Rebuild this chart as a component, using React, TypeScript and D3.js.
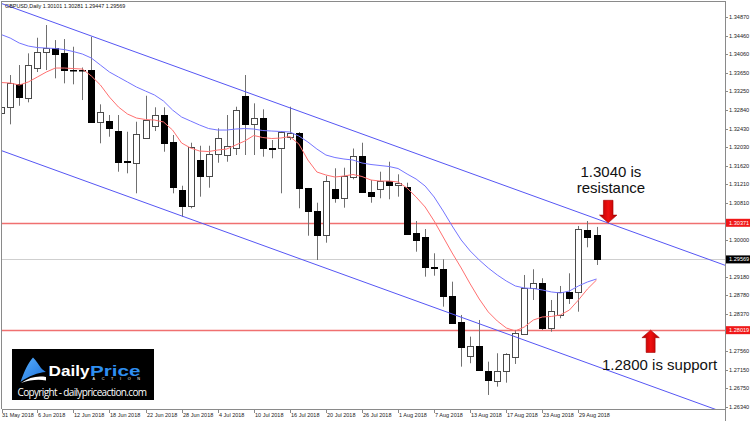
import React from 'react';
import * as d3 from 'd3';

// GBPUSD daily bars, 31 May 2018 .. 31 Aug 2018
const opens = [1.32776, 1.32914, 1.33404, 1.33098, 1.33755, 1.34105, 1.34193, 1.34083, 1.33728, 1.33724,
  1.33717, 1.32572, 1.32600, 1.32388, 1.31718, 1.31687, 1.32235, 1.32491, 1.32732, 1.32147,
  1.31089, 1.30739, 1.31746, 1.31396, 1.31871, 1.31856, 1.32016, 1.33154, 1.32535, 1.32660,
  1.32009, 1.32016, 1.32243, 1.32344, 1.31127, 1.30629, 1.30104, 1.31105, 1.30908, 1.31381,
  1.31841, 1.31052, 1.31105, 1.31286, 1.31199, 1.31162, 1.30141, 1.30067, 1.29403, 1.29353,
  1.28768, 1.28205, 1.27461, 1.27679, 1.27132, 1.26913, 1.27125, 1.27425, 1.27936, 1.28937,
  1.29059, 1.28074, 1.28352, 1.28862, 1.28862, 1.30213, 1.30101];
const highs = [1.32973, 1.33608, 1.33827, 1.34083, 1.34425, 1.34703, 1.34374, 1.34396, 1.34228, 1.33772,
  1.34447, 1.32966, 1.32732, 1.32732, 1.32366, 1.32585, 1.33154, 1.32901, 1.32901, 1.32294,
  1.31183, 1.32125, 1.32059, 1.32059, 1.32441, 1.32732, 1.32914, 1.33608, 1.32988, 1.32857,
  1.32184, 1.32381, 1.32914, 1.32360, 1.31134, 1.30811, 1.31396, 1.31565, 1.31578, 1.31998,
  1.32125, 1.31308, 1.31490, 1.31709, 1.31433, 1.31249, 1.30410, 1.30235, 1.29703, 1.29572,
  1.29081, 1.28352, 1.27877, 1.28242, 1.27329, 1.27513, 1.27513, 1.28023, 1.29228, 1.29353,
  1.29156, 1.28680, 1.28987, 1.29265, 1.30301, 1.30410, 1.30281];
const lows = [1.32710, 1.32528, 1.32935, 1.33010, 1.33674, 1.33717, 1.33536, 1.33426, 1.33404, 1.33060,
  1.32561, 1.32112, 1.32257, 1.31490, 1.31455, 1.31017, 1.32228, 1.32381, 1.31928, 1.31017,
  1.30505, 1.30689, 1.30943, 1.31140, 1.31687, 1.31709, 1.31856, 1.31856, 1.31856, 1.31819,
  1.31784, 1.31017, 1.32184, 1.30689, 1.30088, 1.29556, 1.29935, 1.30811, 1.30702, 1.31324,
  1.31041, 1.30811, 1.30908, 1.30886, 1.30943, 1.30115, 1.29738, 1.29191, 1.29212, 1.28534,
  1.28172, 1.27220, 1.27294, 1.27136, 1.26600, 1.26782, 1.26869, 1.27279, 1.27914, 1.28680,
  1.28023, 1.27986, 1.28280, 1.28593, 1.28424, 1.29834, 1.29447];
const closes = [1.32907, 1.33426, 1.33133, 1.33827, 1.34105, 1.34206, 1.34061, 1.33717, 1.33717, 1.33711,
  1.32572, 1.32791, 1.32441, 1.31709, 1.31705, 1.32309, 1.32622, 1.32732, 1.32125, 1.31162,
  1.30739, 1.32024, 1.31396, 1.31871, 1.32235, 1.32053, 1.32841, 1.32535, 1.32660, 1.32003,
  1.31998, 1.32366, 1.32331, 1.31127, 1.30629, 1.30104, 1.31286, 1.30921, 1.31402, 1.31841,
  1.31052, 1.30964, 1.31293, 1.31199, 1.31249, 1.30126, 1.29994, 1.29396, 1.29390, 1.28768,
  1.28183, 1.27658, 1.27673, 1.27147, 1.26928, 1.27132, 1.27491, 1.27951, 1.28937, 1.29059,
  1.28074, 1.28446, 1.28862, 1.28718, 1.30229, 1.30053, 1.29569];

// moving averages (slow = blue, fast = red)
const maSlow = [1.34495, 1.34418, 1.34309, 1.34243, 1.34210, 1.34199, 1.34188, 1.34166, 1.34122, 1.34068,
  1.33980, 1.33827, 1.33674, 1.33564, 1.33455, 1.33345, 1.33257, 1.33170, 1.33038, 1.32841,
  1.32688, 1.32600, 1.32513, 1.32436, 1.32403, 1.32403, 1.32425, 1.32436, 1.32425, 1.32392,
  1.32381, 1.32371, 1.32360, 1.32272, 1.32141, 1.31987, 1.31856, 1.31801, 1.31768, 1.31746,
  1.31681, 1.31648, 1.31626, 1.31604, 1.31560, 1.31440, 1.31330, 1.31177, 1.30936, 1.30629,
  1.30301, 1.29994, 1.29753, 1.29556, 1.29381, 1.29228, 1.29096, 1.28987, 1.28943, 1.28932,
  1.28899, 1.28856, 1.28834, 1.28877, 1.28987, 1.29075, 1.29140];
const maFast = [1.33444, 1.33433, 1.33389, 1.33455, 1.33564, 1.33674, 1.33761, 1.33761, 1.33750, 1.33739,
  1.33586, 1.33389, 1.33126, 1.32907, 1.32754, 1.32666, 1.32633, 1.32622, 1.32579, 1.32403,
  1.32119, 1.32009, 1.31943, 1.31932, 1.31965, 1.31987, 1.32075, 1.32162, 1.32283, 1.32239,
  1.32217, 1.32228, 1.32261, 1.32097, 1.31746, 1.31484, 1.31418, 1.31374, 1.31396, 1.31429,
  1.31385, 1.31308, 1.31286, 1.31286, 1.31265, 1.31133, 1.30936, 1.30717, 1.30410, 1.30060,
  1.29710, 1.29381, 1.29031, 1.28702, 1.28418, 1.28220, 1.28067, 1.28001, 1.28089, 1.28242,
  1.28308, 1.28319, 1.28352, 1.28461, 1.28680, 1.28921, 1.29118];

const dateLabels = ['31 May 2018', '6 Jun 2018', '12 Jun 2018', '18 Jun 2018', '22 Jun 2018', '28 Jun 2018',
  '4 Jul 2018', '10 Jul 2018', '16 Jul 2018', '20 Jul 2018', '26 Jul 2018', '1 Aug 2018', '7 Aug 2018',
  '13 Aug 2018', '17 Aug 2018', '23 Aug 2018', '29 Aug 2018'];
const dateStep = 4;

// grid prices; the ones under the level/bid boxes get a tick but no label
const priceTicks = [1.34870, 1.34460, 1.34060, 1.33650, 1.33250, 1.32840, 1.32430, 1.32030, 1.31620,
  1.31210, 1.30810, 1.30400, 1.30000, 1.29590, 1.29180, 1.28780, 1.28370, 1.27960, 1.27560, 1.27150,
  1.26750, 1.26340];
const hiddenTicks = [1.30400, 1.29590, 1.27960];

const levels = [1.30371, 1.28019];
// channel trendlines: [bar, price] anchors
const upperChannel = [[0, 1.35177], [60, 1.30888]];
const lowerChannel = [[0, 1.31954], [60, 1.27658]];

const W = 750;
const H = 421;
const L = 2, T = 1, R = 725, B = 409;
const font = '"Liberation Sans", Arial, sans-serif';

const App = () => {
  const n = closes.length;
  const x = d3.scaleLinear().domain([0, n - 1]).range([1.2, 596.5]);
  const y = d3.scaleLinear().domain([1.262921, 1.352297]).range([B, T]);

  const maLine = d3.line<number>()
    .x((d, i) => x(i))
    .y(d => y(d));

  const trend = (a: number[][]) => {
    const [[i0, p0], [i1, p1]] = a;
    const at = (i: number) => p0 + (p1 - p0) * (i - i0) / (i1 - i0);
    return { x1: x(-3), y1: y(at(-3)), x2: x(90), y2: y(at(90)) };
  };

  const last = closes[n - 1];
  const header = `GBPUSD,Daily  ${opens[n - 1].toFixed(5)} ${highs[n - 1].toFixed(5)} ${lows[n - 1].toFixed(5)} ${last.toFixed(5)}`;

  // annotation anchors (bar index, price)
  const resX = x(67.3), resY = y(levels[0]);
  const supX = x(72), supY = y(levels[1]);

  const downArrow = 'M0,0 L-8.7,-7.7 L-4.8,-7.7 L-4.8,-22.5 L4.8,-22.5 L4.8,-7.7 L8.7,-7.7 Z';
  const upArrow = 'M0,0 L-8.7,7.5 L-4.5,7.5 L-4.5,22.3 L4.5,22.3 L4.5,7.5 L8.7,7.5 Z';

  return (
    <svg width={W} height={H} style={{ position: 'absolute', left: 0, top: 0, background: '#fff' }}
      fontFamily={font}>
      <defs>
        <clipPath id="plot"><rect x={L} y={T} width={R - L} height={B - T} /></clipPath>
        <linearGradient id="arrowRed" x1="0" x2="1" y1="0" y2="0">
          <stop offset="0" stopColor="#b00000" />
          <stop offset="0.5" stopColor="#f01010" />
          <stop offset="1" stopColor="#b00000" />
        </linearGradient>
        <linearGradient id="swoosh" x1="0" x2="1" y1="0" y2="1">
          <stop offset="0" stopColor="#5ab0ff" />
          <stop offset="1" stopColor="#1a6fd8" />
        </linearGradient>
      </defs>
      <rect x={0} y={0} width={W} height={H} fill="#fff" />

      <g clipPath="url(#plot)">
        {/* bid line */}
        <line x1={L} x2={R} y1={Math.round(y(last)) + 0.5} y2={Math.round(y(last)) + 0.5} stroke="#cfcfcf" />
        {levels.map(p => (
          <line key={p} x1={L} x2={R} y1={Math.round(y(p)) + 0.5} y2={Math.round(y(p)) + 0.5}
            stroke="#f07070" strokeWidth={1.3} />
        ))}

        {/* candles */}
        {opens.map((o, i) => {
          const c = closes[i];
          const cx = Math.round(x(i));
          const top = Math.round(y(Math.max(o, c)));
          const bot = Math.round(y(Math.min(o, c)));
          const bull = c > o;
          return (
            <g key={i}>
              <line x1={cx + 0.5} x2={cx + 0.5} y1={y(highs[i])} y2={y(lows[i])} stroke="#707070" />
              <rect x={cx - 2.5} y={top + 0.5} width={6} height={Math.max(bot - top, 0.5)}
                fill={bull ? '#fff' : '#000'} stroke={bull ? '#4a4a4a' : '#000'} />
            </g>
          );
        })}

        {/* channel */}
        {[upperChannel, lowerChannel].map((a, k) => (
          <line key={k} {...trend(a)} stroke="#5656f4" strokeWidth={1} />
        ))}

        <path d={maLine(maSlow) || ''} fill="none" stroke="#7474ff" strokeWidth={1} />
        <path d={maLine(maFast) || ''} fill="none" stroke="#ff7070" strokeWidth={1} />
      </g>

      {/* frame */}
      <line x1={L} x2={R} y1={T + 0.5} y2={T + 0.5} stroke="#8a8a8a" />
      <line x1={L - 0.5} x2={L - 0.5} y1={T} y2={B} stroke="#8a8a8a" />
      <line x1={L} x2={R} y1={B + 0.5} y2={B + 0.5} stroke="#8a8a8a" />
      <line x1={R + 0.5} x2={R + 0.5} y1={T} y2={H} stroke="#8a8a8a" />

      {/* price axis */}
      {priceTicks.map(p => (
        <g key={p}>
          <line x1={R} x2={R + 3} y1={Math.round(y(p)) + 0.5} y2={Math.round(y(p)) + 0.5} stroke="#8a8a8a" />
          {!hiddenTicks.includes(p) && (
            <text x={R + 4} y={y(p)} dy="0.35em" fontSize={5.6} fill="#222">{p.toFixed(5)}</text>
          )}
        </g>
      ))}
      {[{ p: levels[0], bg: '#f01818' }, { p: last, bg: '#000' }, { p: levels[1], bg: '#f01818' }].map(({ p, bg }) => (
        <g key={p}>
          <rect x={R + 1} y={y(p) - 4} width={W - R - 1} height={8} fill={bg} />
          <text x={R + 4} y={y(p)} dy="0.35em" fontSize={5.6} fill="#fff">{p.toFixed(5)}</text>
        </g>
      ))}

      {/* time axis */}
      {dateLabels.map((d, k) => {
        const tx = Math.round(x(k * dateStep));
        return (
          <g key={d}>
            <line x1={Math.max(tx, L) + 0.5} x2={Math.max(tx, L) + 0.5} y1={B} y2={B + 4} stroke="#8a8a8a" />
            <text x={Math.max(tx, 0) + 1} y={416.5} fontSize={5.5} fill="#222">{d}</text>
          </g>
        );
      })}

      <text x={5} y={7.5} fontSize={5.4} fill="#111">{header}</text>

      {/* annotations */}
      <path d={downArrow} transform={`translate(${resX},${resY})`} fill="url(#arrowRed)" stroke="#a00000" strokeWidth={0.6} />
      <text x={resX + 2.7} y={resY - 46} fontSize={15} textAnchor="middle" fill="#111">1.3040 is</text>
      <text x={resX + 2.7} y={resY - 29.5} fontSize={15} textAnchor="middle" fill="#111">resistance</text>
      <path d={upArrow} transform={`translate(${supX},${supY})`} fill="url(#arrowRed)" stroke="#a00000" strokeWidth={0.6} />
      <text x={supX - 48.6} y={supY + 39.5} fontSize={15} fill="#111">1.2800 is support</text>

      {/* logo */}
      <g>
        <rect x={12} y={349} width={142} height={51} fill="#000" />
        <path d="M20.5,382 C24,372 28,363 33,357.5 C36,360 38,364 41,368 C43,370 45,371.5 46,372 C38,372.5 29,376 20.5,382 Z"
          fill="url(#swoosh)" />
        <path d="M21,383 C29,377.5 37,375.5 46,377 L46,380.5 C38,379 30,380 21,383 Z" fill="#fff" />
        <text x={48.5} y={375.5} fontSize={14.5} fontWeight="bold" fill="#fff" textLength={41}
          lengthAdjust="spacingAndGlyphs">Daily</text>
        <text x={90} y={375.5} fontSize={14.5} fontWeight="bold" fill="#2f8ff0" textLength={50.5}
          lengthAdjust="spacingAndGlyphs">Price</text>
        <text x={92.5} y={380.2} fontSize={3.8} fill="#fff" textLength={47.5}>ACTION</text>
        <text x={17.5} y={396} fontSize={10} fill="#fff" textLength={129.5}
          fontFamily='"Open Sans", "Liberation Sans", sans-serif'>Copyright - dailypriceaction.com</text>
      </g>
    </svg>
  );
};

export default App;
